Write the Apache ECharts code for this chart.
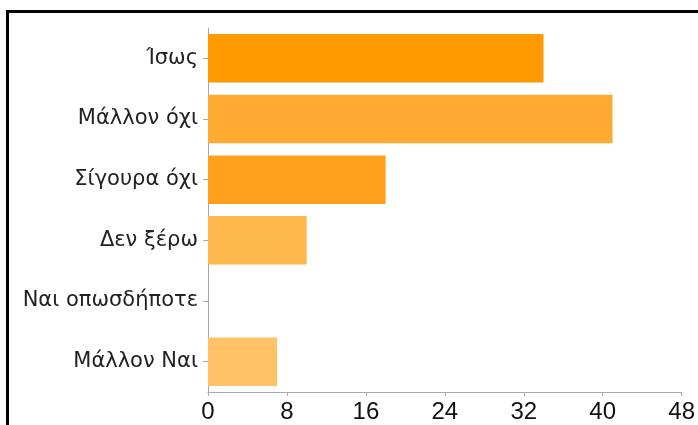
<!DOCTYPE html>
<html>
<head>
<meta charset="utf-8">
<script src="https://cdn.jsdelivr.net/npm/echarts@6/dist/echarts.min.js"></script>
<style>
html,body{margin:0;padding:0;background:#fff;}
#frame{position:absolute;left:6px;top:10px;width:720px;height:440px;border:3px solid #000;box-sizing:border-box;}
#chart{position:absolute;left:0;top:0;width:698px;height:425px;}
</style>
</head>
<body>
<div id="frame"></div>
<div id="chart"></div>
<script>
const categories = ['Ίσως', 'Μάλλον όχι', 'Σίγουρα όχι', 'Δεν ξέρω', 'Ναι οπωσδήποτε', 'Μάλλον Ναι'];
const values = [34, 41, 18, 10, 0, 7];
const barColors = ['#FF9900', '#FFAA33', '#FF9F1C', '#FFB84D', '#FFC266', '#FFC266'];
const xTicks = [0, 8, 16, 24, 32, 40, 48];

const chart = echarts.init(document.getElementById('chart'), null, {renderer: 'canvas'});
chart.setOption({
  animation: false,
  backgroundColor: 'transparent',
  grid: {left: 208, right: 13, top: 28, bottom: 33, containLabel: false},
  xAxis: {
    type: 'value',
    min: xTicks[0],
    max: xTicks[xTicks.length - 1],
    interval: 8,
    splitLine: {show: false},
    axisLine: {show: true, lineStyle: {color: '#a4aab4', width: 1}},
    axisTick: {show: true, length: 4, lineStyle: {color: '#a4aab4'}},
    axisLabel: {color: '#111', fontFamily: 'Liberation Sans', fontSize: 24, margin: 8}
  },
  yAxis: {
    type: 'category',
    inverse: true,
    data: categories,
    axisLine: {show: true, lineStyle: {color: '#a4aab4', width: 1}},
    axisTick: {show: true, alignWithLabel: true, length: 5, lineStyle: {color: '#a4aab4'}},
    axisLabel: {color: '#222', fontFamily: 'DejaVu Sans', fontSize: 21, margin: 10}
  },
  series: [{
    type: 'bar',
    barWidth: '80%',
    data: values.map((v, i) => ({value: v, itemStyle: {color: barColors[i]}}))
  }]
});
</script>
</body>
</html>
